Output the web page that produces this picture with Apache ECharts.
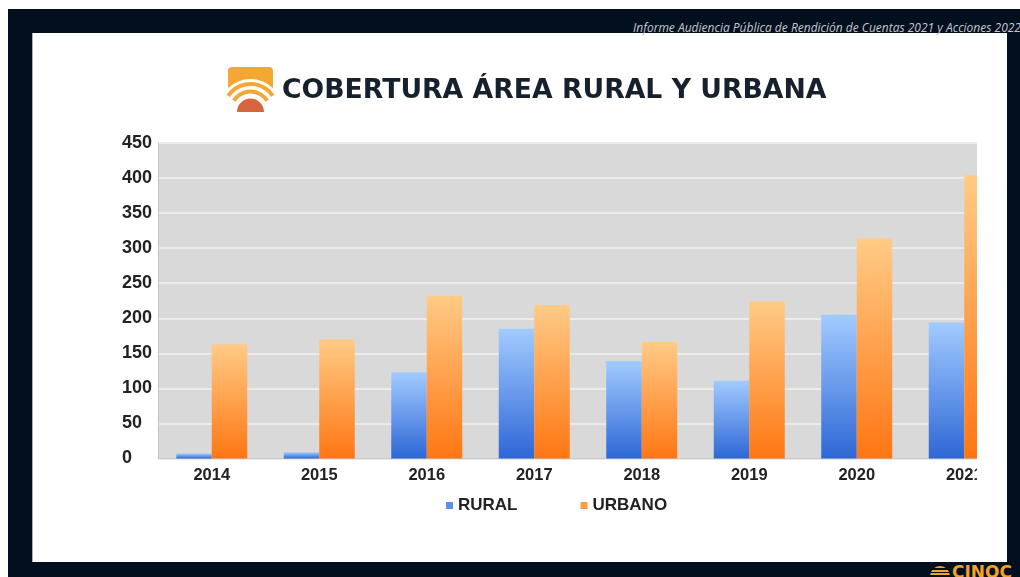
<!DOCTYPE html>
<html>
<head>
<meta charset="utf-8">
<script src="https://cdn.jsdelivr.net/npm/echarts@6/dist/echarts.min.js"></script>
<style>
  html, body { margin: 0; padding: 0; background: #ffffff; width: 1020px; height: 577px; overflow: hidden; }
  #bg { position: absolute; left: 8px; top: 9px; width: 1012px; height: 568px; background: #020f1e; }
  #panel { position: absolute; left: 33px; top: 33px; width: 974px; height: 529px; background: #ffffff; box-shadow: -1px 0 0 #a9b0ba; }
  #hdr { position: absolute; left: 633px; top: 19px; white-space: nowrap; font-family: "Open Sans", sans-serif; font-style: italic; font-size: 12px; color: #c3c8d0; }
  #logo { position: absolute; left: 952px; top: 562px; font-family: "DejaVu Sans", sans-serif; font-weight: bold; font-size: 17px; color: #f2a227; }
  #logoIcon { position: absolute; left: 930px; top: 566px; width: 20px; height: 12px; border-radius: 10px 10px 0 0;
    background: repeating-linear-gradient(to bottom, #f2a227 0px, #f2a227 2px, #020f1e 2px, #020f1e 3.5px); }
  #wrap { position: absolute; left: 0; top: 0; width: 977px; height: 562px; overflow: hidden; }
  #chart { position: absolute; left: 0; top: 0; width: 1040px; height: 577px; }
</style>
</head>
<body>
<div id="bg"></div>
<div id="panel"></div>
<div id="hdr">Informe Audiencia Pública de Rendición de Cuentas 2021 y Acciones 2022</div>
<div id="logoIcon"></div>
<div id="logo">CINOC</div>
<div id="wrap"><div id="chart"></div></div>
<script>
const titleText = 'COBERTURA ÁREA RURAL Y URBANA';
const categories = ['2014', '2015', '2016', '2017', '2018', '2019', '2020', '2021'];
const seriesNames = ['RURAL', 'URBANO'];
const rural = [7, 9, 123, 185, 139, 111, 205, 194];
const urbano = [163, 170, 232, 219, 166, 224, 314, 404];

const chart = echarts.init(document.getElementById('chart'), null, { renderer: 'canvas' });
const orange = '#f5a733';
const option = {
  backgroundColor: 'transparent',
  animation: false,
  title: {
    text: titleText,
    left: 277, top: 73,
    textStyle: { fontFamily: 'DejaVu Sans', fontWeight: 'bold', fontSize: 26.7, color: '#17202d' }
  },
  graphic: [
    { type: 'rect', shape: { x: 228, y: 67, width: 45, height: 24, r: [4, 4, 0, 0] }, style: { fill: orange }, z: 10 },
    { type: 'sector', shape: { cx: 250.5, cy: 111, r: 32, r0: 0, startAngle: Math.PI, endAngle: Math.PI * 2 }, style: { fill: '#ffffff' }, z: 11 },
    { type: 'arc', shape: { cx: 250.5, cy: 111, r: 27, startAngle: Math.PI + 0.6, endAngle: Math.PI * 2 - 0.6 }, style: { fill: null, stroke: orange, lineWidth: 4 }, z: 12 },
    { type: 'arc', shape: { cx: 250.5, cy: 111, r: 19.5, startAngle: Math.PI + 0.55, endAngle: Math.PI * 2 - 0.55 }, style: { fill: null, stroke: orange, lineWidth: 4 }, z: 12 },
    { type: 'sector', shape: { cx: 250.5, cy: 112, r: 13.5, r0: 0, startAngle: Math.PI, endAngle: Math.PI * 2 }, style: { fill: '#d8643d' }, z: 12 }
  ],
  legend: {
    left: 446, top: 497, padding: 0,
    itemWidth: 7, itemHeight: 7, itemGap: 63, icon: 'rect',
    textStyle: { fontFamily: 'Liberation Sans', fontWeight: 'bold', fontSize: 17, color: '#222222' },
    data: [
      { name: seriesNames[0], itemStyle: { color: '#5b8fe8' } },
      { name: seriesNames[1], itemStyle: { color: '#ff9c40' } }
    ]
  },
  grid: {
    left: 158, top: 143, width: 860, height: 315.5,
    show: true, backgroundColor: '#d9d9d9', borderWidth: 0, containLabel: false
  },
  xAxis: {
    type: 'category', data: categories,
    axisLine: { show: true, lineStyle: { color: '#c9c9c9', width: 1 } },
    axisTick: { show: false },
    axisLabel: { margin: 8, fontFamily: 'Liberation Sans', fontWeight: 'bold', fontSize: 16.5, color: '#222222' }
  },
  yAxis: {
    type: 'value', min: 0, max: 450, interval: 50,
    axisLine: { show: true, lineStyle: { color: '#c4c4c4', width: 1 } },
    axisTick: { show: false },
    splitLine: { show: true, lineStyle: { color: '#ebebeb', width: 2 } },
    axisLabel: { align: 'left', margin: 36, fontFamily: 'Liberation Sans', fontWeight: 'bold', fontSize: 18, color: '#222222' }
  },
  series: [
    {
      name: seriesNames[0], type: 'bar', data: rural, barWidth: 35.5, barGap: '0%',
      itemStyle: { color: { type: 'linear', x: 0, y: 0, x2: 0, y2: 1, colorStops: [
        { offset: 0, color: '#a2cbff' }, { offset: 1, color: '#2e67d6' } ] } }
    },
    {
      name: seriesNames[1], type: 'bar', data: urbano, barWidth: 35.5, barGap: '0%',
      itemStyle: { color: { type: 'linear', x: 0, y: 0, x2: 0, y2: 1, colorStops: [
        { offset: 0, color: '#ffcb86' }, { offset: 1, color: '#ff7613' } ] } }
    }
  ]
};
chart.setOption(option);
</script>
</body>
</html>
